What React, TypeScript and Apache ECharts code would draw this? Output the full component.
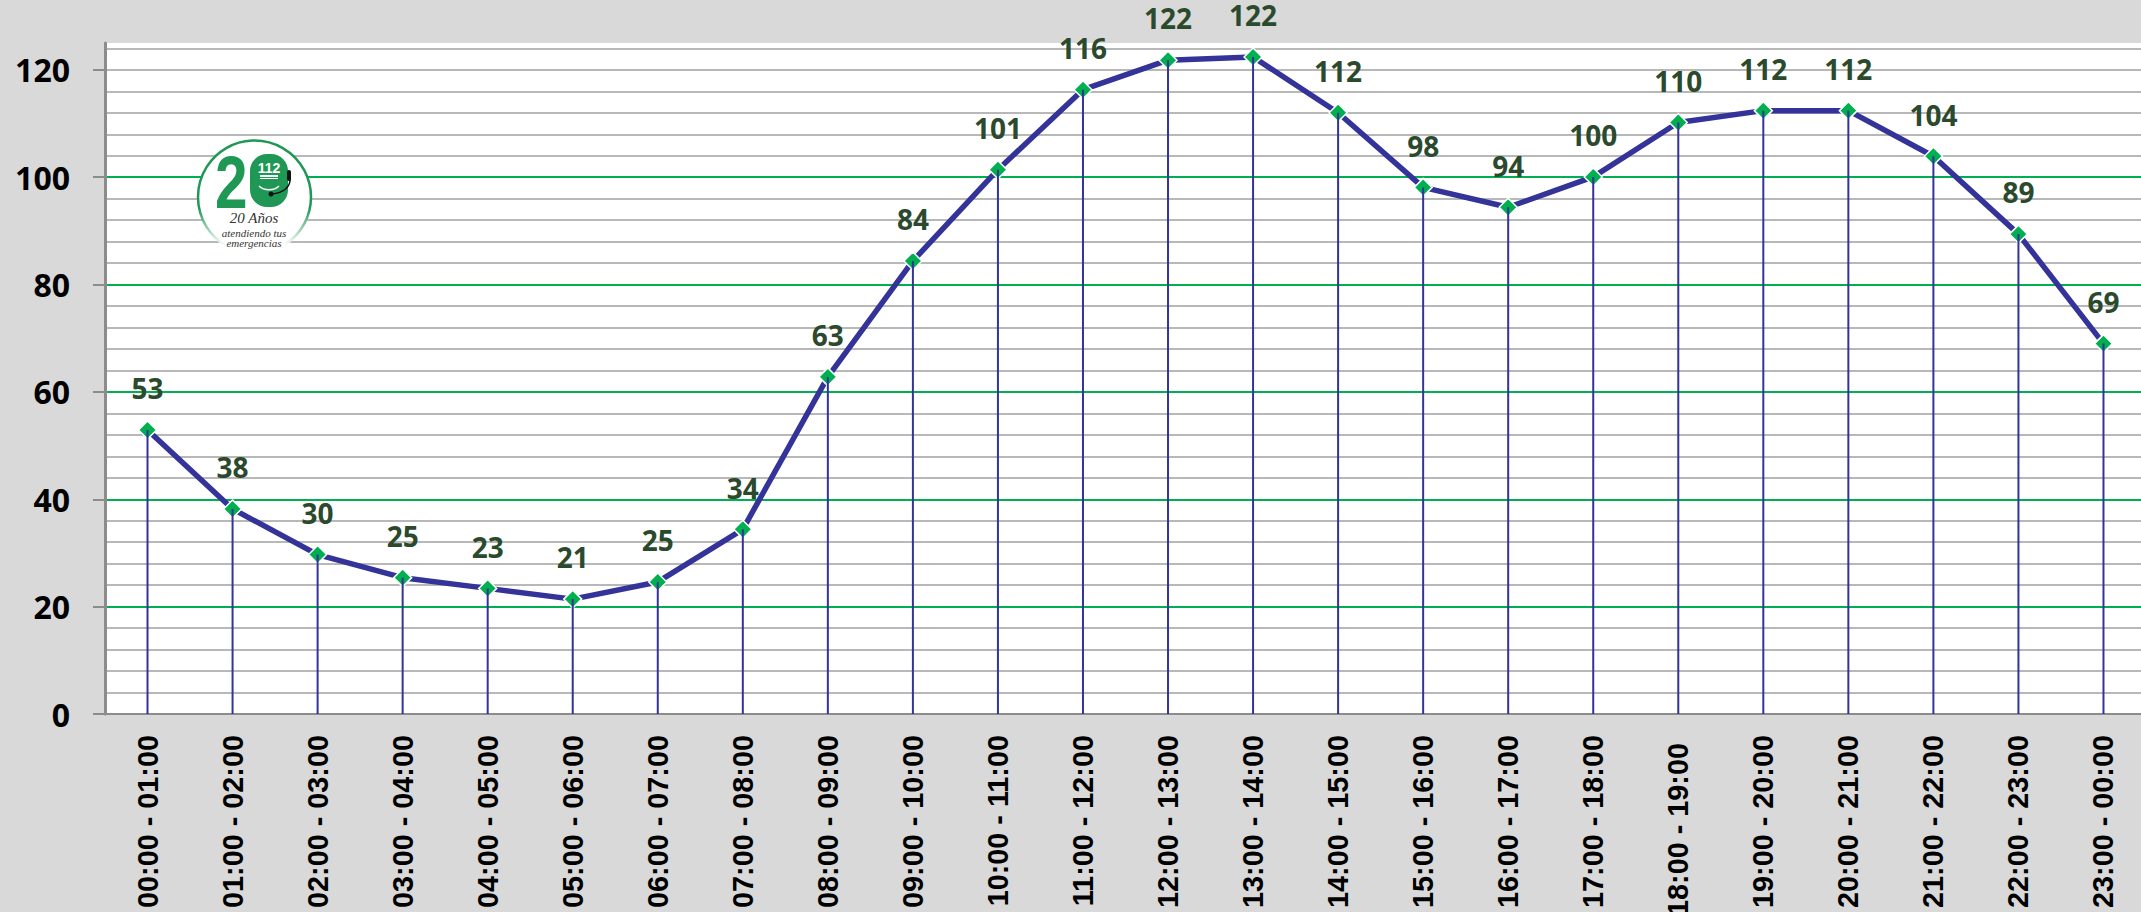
import React, { useEffect, useRef } from "react";
import * as echarts from "echarts";

const hours = [
  "00:00 - 01:00", "01:00 - 02:00", "02:00 - 03:00", "03:00 - 04:00", "04:00 - 05:00", "05:00 - 06:00",
  "06:00 - 07:00", "07:00 - 08:00", "08:00 - 09:00", "09:00 - 10:00", "10:00 - 11:00", "11:00 - 12:00",
  "12:00 - 13:00", "13:00 - 14:00", "14:00 - 15:00", "15:00 - 16:00", "16:00 - 17:00", "17:00 - 18:00",
  "18:00 - 19:00", "19:00 - 20:00", "20:00 - 21:00", "21:00 - 22:00", "22:00 - 23:00", "23:00 - 00:00",
];
const calls = [
  52.9, 38.2, 29.7, 25.4, 23.4, 21.4, 24.6, 34.4, 62.8, 84.4, 101.4, 116.3,
  121.8, 122.4, 112.0, 98.1, 94.4, 100.05, 110.2, 112.4, 112.4, 103.9, 89.4, 69.0,
];
const majorTicks = [0, 20, 40, 60, 80, 100, 120];

const NAVY = "#333399";
const GREEN = "#00b050";
const LOGO = "#1f9855";

export default function App() {
  const ref = useRef<HTMLDivElement>(null);
  useEffect(() => {
    document.body.style.margin = "0";
    document.body.style.overflow = "hidden";
    const chart = echarts.init(ref.current!, null, { renderer: "svg" });
    const logoParts: any[] = [
      {
        type: "circle",
        shape: { cx: 254.5, cy: 197, r: 56.5 },
        style: {
          fill: "#ffffff",
          lineWidth: 2.5,
          stroke: new echarts.graphic.LinearGradient(0, 0, 0, 1, [
            { offset: 0, color: LOGO },
            { offset: 0.6, color: LOGO },
            { offset: 0.93, color: "#ffffff" },
            { offset: 1, color: "#ffffff" },
          ]),
        },
      },
      {
        type: "text",
        x: 215,
        y: 144,
        scaleX: 0.78,
        style: { text: "2", fill: LOGO, font: "bold 75px 'Liberation Sans'" },
      },
      { type: "rect", shape: { x: 250, y: 154, width: 38, height: 53, r: 17 }, style: { fill: LOGO } },
      {
        type: "text",
        x: 269,
        y: 168,
        style: { text: "112", fill: "#ffffff", font: "bold 14px 'Liberation Sans'", align: "center", verticalAlign: "middle" },
      },
      { type: "rect", shape: { x: 260, y: 175, width: 18, height: 2 }, style: { fill: "#ffffff" } },
      { type: "rect", shape: { x: 260, y: 178, width: 18, height: 1 }, style: { fill: "#ffffff" } },
      {
        type: "bezierCurve",
        shape: { x1: 259, y1: 186, x2: 279, y2: 186, cpx1: 264, cpy1: 191, cpx2: 274, cpy2: 191 },
        style: { stroke: "#ffffff", lineWidth: 1.5, fill: "none" },
      },
      {
        type: "bezierCurve",
        shape: { x1: 290, y1: 178, x2: 272, y2: 194, cpx1: 291, cpy1: 187, cpx2: 283, cpy2: 193 },
        style: { stroke: "#111111", lineWidth: 1.5, fill: "none" },
      },
      { type: "rect", shape: { x: 287, y: 170, width: 4, height: 11, r: 2 }, style: { fill: "#111111" } },
      { type: "circle", shape: { cx: 271, cy: 194, r: 2.5 }, style: { fill: "#111111" } },
      {
        type: "text",
        x: 254,
        y: 218,
        style: { text: "20 Años", fill: "#333333", font: "italic 15px 'Liberation Serif'", align: "center", verticalAlign: "middle" },
      },
      {
        type: "text",
        x: 254,
        y: 233,
        style: { text: "atendiendo tus", fill: "#333333", font: "italic 11px 'Liberation Serif'", align: "center", verticalAlign: "middle" },
      },
      {
        type: "text",
        x: 254,
        y: 243,
        style: { text: "emergencias", fill: "#333333", font: "italic 11px 'Liberation Serif'", align: "center", verticalAlign: "middle" },
      },
    ];
    chart.setOption({
      animation: false,
      backgroundColor: "#d9d9d9",
      grid: {
        left: 105,
        top: 43,
        width: 2041,
        height: 671,
        show: true,
        backgroundColor: "#ffffff",
        borderWidth: 0,
        containLabel: false,
        outerBoundsMode: "none",
      },
      xAxis: {
        type: "category",
        data: hours,
        boundaryGap: true,
        axisLine: { lineStyle: { color: "#8c8c8c", width: 2 } },
        axisTick: { length: 10, alignWithLabel: false, lineStyle: { color: "#8c8c8c", width: 2 } },
        axisLabel: {
          interval: 0,
          rotate: 90,
          margin: 21,
          color: "#000",
          fontFamily: "Liberation Sans",
          fontWeight: "bold",
          fontSize: 28.8,
          formatter: (v: string) => (v === "18:00 - 19:00" ? `{s|${v}}` : v),
          rich: {
            s: {
              color: "#000",
              fontFamily: "Liberation Sans",
              fontWeight: "bold",
              fontSize: 28.8,
              padding: [0, 8, 0, 0],
            },
          },
        },
      },
      yAxis: [
        {
          type: "value",
          position: "left",
          min: 0,
          max: 125,
          interval: 4,
          axisLine: { show: false },
          axisTick: { show: false },
          axisLabel: { show: false },
          splitLine: { show: true, showMinLine: false, showMaxLine: false, lineStyle: { color: "#b8b8b8", width: 2 } },
        },
        {
          type: "value",
          position: "left",
          min: 0,
          max: 125,
          interval: 20,
          axisLine: { show: true, lineStyle: { color: "#8c8c8c", width: 3 } },
          axisTick: { show: true, length: 12, customValues: majorTicks, lineStyle: { color: "#8c8c8c", width: 2 } },
          axisLabel: {
            customValues: majorTicks,
            margin: 35,
            color: "#000",
            fontFamily: "Open Sans",
            fontWeight: "bold",
            fontSize: 32,
          },
          splitLine: { show: true, showMinLine: false, showMaxLine: false, lineStyle: { color: GREEN, width: 2 } },
        },
      ],
      series: [
        {
          name: "Llamadas",
          type: "line",
          yAxisIndex: 1,
          data: calls,
          z: 3,
          symbol: "diamond",
          symbolSize: 18,
          lineStyle: { color: NAVY, width: 5.5 },
          itemStyle: { color: GREEN, borderColor: "#ffffff", borderWidth: 1.5 },
          label: {
            show: true,
            position: "top",
            distance: 18,
            color: "#2b4a2d",
            fontFamily: "Open Sans",
            fontWeight: "bold",
            fontSize: 28,
            lineHeight: 28,
            formatter: (p: any) => String(Math.round(p.value)),
          },
        },
        {
          name: "Guías",
          type: "bar",
          yAxisIndex: 1,
          data: calls,
          z: 4,
          barWidth: 2,
          silent: true,
          itemStyle: { color: NAVY },
        },
      ],
      graphic: logoParts.map((part, i) => ({ ...part, z: 10 + i })),
    });
    return () => chart.dispose();
  }, []);
  return <div ref={ref} style={{ position: "absolute", left: 0, top: 0, width: 2141, height: 912 }} />;
}
